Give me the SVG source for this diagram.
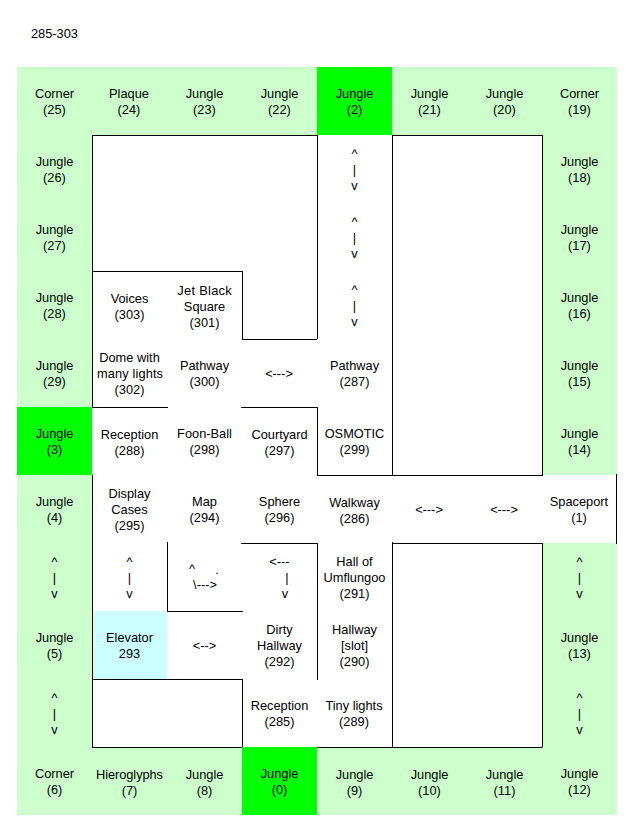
<svg xmlns="http://www.w3.org/2000/svg" width="626" height="830" viewBox="0 0 626 830">
<style>
text{font-family:"Liberation Sans",Arial,sans-serif;font-size:12.8px;fill:#000;text-anchor:middle}
.j{fill:#ccffcc}.g{fill:#00ff00}.e{fill:#ccffff}
.w{fill:none;stroke:#000;stroke-width:1}
</style>
<rect width="626" height="830" fill="#fff"/>
<text x="31" y="38" style="text-anchor:start">285-303</text>
<g id="n25"><rect class="j" x="17" y="67" width="75" height="68"/><text x="54.5" y="98">Corner</text><text x="54.5" y="114">(25)</text></g>
<g id="n24"><rect class="j" x="92" y="67" width="75" height="68"/><text x="129" y="98">Plaque</text><text x="129" y="114">(24)</text></g>
<g id="n23"><rect class="j" x="167" y="67" width="75" height="68"/><text x="204.5" y="98">Jungle</text><text x="204.5" y="114">(23)</text></g>
<g id="n22"><rect class="j" x="242" y="67" width="75" height="68"/><text x="279.5" y="98">Jungle</text><text x="279.5" y="114">(22)</text></g>
<g id="n2"><rect class="g" x="317" y="67" width="75" height="68"/><text x="354.5" y="98">Jungle</text><text x="354.5" y="114">(2)</text></g>
<g id="n21"><rect class="j" x="392" y="67" width="75" height="68"/><text x="429.5" y="98">Jungle</text><text x="429.5" y="114">(21)</text></g>
<g id="n20"><rect class="j" x="467" y="67" width="75" height="68"/><text x="504.5" y="98">Jungle</text><text x="504.5" y="114">(20)</text></g>
<g id="n19"><rect class="j" x="542" y="67" width="75" height="68"/><text x="579.5" y="98">Corner</text><text x="579.5" y="114">(19)</text></g>
<g id="n26"><rect class="j" x="17" y="135" width="75" height="68"/><text x="54.5" y="166">Jungle</text><text x="54.5" y="182">(26)</text></g>
<g id="n18"><rect class="j" x="542" y="135" width="75" height="68"/><text x="579.5" y="166">Jungle</text><text x="579.5" y="182">(18)</text></g>
<g id="n27"><rect class="j" x="17" y="203" width="75" height="68"/><text x="54.5" y="234">Jungle</text><text x="54.5" y="250">(27)</text></g>
<g id="n17"><rect class="j" x="542" y="203" width="75" height="68"/><text x="579.5" y="234">Jungle</text><text x="579.5" y="250">(17)</text></g>
<g id="n28"><rect class="j" x="17" y="271" width="75" height="68"/><text x="54.5" y="302">Jungle</text><text x="54.5" y="318">(28)</text></g>
<g id="n303"><text x="129.5" y="303">Voices</text><text x="129.5" y="319">(303)</text></g>
<g id="n301"><text x="204.5" y="295" textLength="54.5">Jet Black</text><text x="204.5" y="311">Square</text><text x="204.5" y="327">(301)</text></g>
<g id="n16"><rect class="j" x="542" y="271" width="75" height="68"/><text x="579.5" y="302">Jungle</text><text x="579.5" y="318">(16)</text></g>
<g id="n29"><rect class="j" x="17" y="339" width="75" height="68"/><text x="54.5" y="370">Jungle</text><text x="54.5" y="386">(29)</text></g>
<g id="n302"><text x="129.5" y="362" textLength="60.5">Dome with</text><text x="130" y="378" textLength="66">many lights</text><text x="129.5" y="394">(302)</text></g>
<g id="n300"><text x="204.5" y="370">Pathway</text><text x="204.5" y="386">(300)</text></g>
<g id="n287"><text x="354.5" y="370">Pathway</text><text x="354.5" y="386">(287)</text></g>
<g id="n15"><rect class="j" x="542" y="339" width="75" height="68"/><text x="579.5" y="370">Jungle</text><text x="579.5" y="386">(15)</text></g>
<g id="n3"><rect class="g" x="17" y="407" width="75" height="68"/><text x="54.5" y="438">Jungle</text><text x="54.5" y="454">(3)</text></g>
<g id="n288"><text x="129.5" y="439">Reception</text><text x="129.5" y="455">(288)</text></g>
<g id="n298"><text x="204.5" y="438">Foon-Ball</text><text x="204.5" y="454">(298)</text></g>
<g id="n297"><text x="279.5" y="439">Courtyard</text><text x="279.5" y="455">(297)</text></g>
<g id="n299"><text x="354.5" y="438">OSMOTIC</text><text x="354.5" y="454">(299)</text></g>
<g id="n14"><rect class="j" x="542" y="407" width="75" height="68"/><text x="579.5" y="438">Jungle</text><text x="579.5" y="454">(14)</text></g>
<g id="n4"><rect class="j" x="17" y="475" width="75" height="68"/><text x="54.5" y="506">Jungle</text><text x="54.5" y="522">(4)</text></g>
<g id="n295"><text x="129.5" y="498">Display</text><text x="129.5" y="514">Cases</text><text x="129.5" y="530">(295)</text></g>
<g id="n294"><text x="204.5" y="506">Map</text><text x="204.5" y="522">(294)</text></g>
<g id="n296"><text x="279.5" y="506">Sphere</text><text x="279.5" y="522">(296)</text></g>
<g id="n286"><text x="354.5" y="507">Walkway</text><text x="354.5" y="523">(286)</text></g>
<g id="n1"><text x="579" y="506">Spaceport</text><text x="579" y="522">(1)</text></g>
<g id="n291"><text x="354.5" y="566">Hall of</text><text x="354.5" y="582">Umflungoo</text><text x="354.5" y="598">(291)</text></g>
<g id="n5"><rect class="j" x="17" y="611" width="75" height="68"/><text x="54.5" y="642">Jungle</text><text x="54.5" y="658">(5)</text></g>
<g id="n293"><rect class="e" x="92" y="611" width="75" height="68"/><text x="129.5" y="642">Elevator</text><text x="129.5" y="658">293</text></g>
<g id="n292"><text x="279.5" y="634">Dirty</text><text x="279.5" y="650">Hallway</text><text x="279.5" y="666">(292)</text></g>
<g id="n290"><text x="354.5" y="634">Hallway</text><text x="354.5" y="650">[slot]</text><text x="354.5" y="666">(290)</text></g>
<g id="n13"><rect class="j" x="542" y="611" width="75" height="68"/><text x="579.5" y="642">Jungle</text><text x="579.5" y="658">(13)</text></g>
<g id="n285"><text x="279.5" y="710">Reception</text><text x="279.5" y="726">(285)</text></g>
<g id="n289"><text x="354" y="710">Tiny lights</text><text x="354" y="726">(289)</text></g>
<g id="n6"><rect class="j" x="17" y="747" width="75" height="68"/><text x="54.5" y="778">Corner</text><text x="54.5" y="794">(6)</text></g>
<g id="n7"><rect class="j" x="92" y="747" width="75" height="68"/><text x="129.5" y="779" textLength="67">Hieroglyphs</text><text x="129.5" y="795">(7)</text></g>
<g id="n8"><rect class="j" x="167" y="747" width="75" height="68"/><text x="204.5" y="779">Jungle</text><text x="204.5" y="795">(8)</text></g>
<g id="n0"><rect class="g" x="242" y="747" width="75" height="68"/><text x="279.5" y="778">Jungle</text><text x="279.5" y="794">(0)</text></g>
<g id="n9"><rect class="j" x="317" y="747" width="75" height="68"/><text x="354.5" y="779">Jungle</text><text x="354.5" y="795">(9)</text></g>
<g id="n10"><rect class="j" x="392" y="747" width="75" height="68"/><text x="429.5" y="779">Jungle</text><text x="429.5" y="795">(10)</text></g>
<g id="n11"><rect class="j" x="467" y="747" width="75" height="68"/><text x="504.5" y="779">Jungle</text><text x="504.5" y="795">(11)</text></g>
<g id="n12"><rect class="j" x="542" y="747" width="75" height="68"/><text x="579.5" y="778">Jungle</text><text x="579.5" y="794">(12)</text></g>
<g id="connectors">
<rect class="j" x="17" y="543" width="75" height="68"/>
<rect class="j" x="17" y="679" width="75" height="68"/>
<rect class="j" x="542" y="543" width="75" height="68"/>
<rect class="j" x="542" y="679" width="75" height="68"/>
<path class="w" d="M92.5 135.5H317.5M392.5 135.5H542.5M92.5 135V407M92.5 475V747M317.5 135V339M392.5 135V475M392.5 542V747M542.5 135V475M542.5 543V747M92 271.5H242.5M242.5 271V339M242 339.5H317M92 407.5H168M241 407.5H317.5M317.5 407V475M317 475.5H543M616.5 474V544M392 543.5H542.5M241 543.5H317.5M167.5 542V611M167 611.5H243M317.5 543V680M92 679.5H242.5M242.5 679V747M92 747.5H242M317 747.5H542.5"/>
<text x="354.5" y="158">^</text><text x="354.5" y="174">|</text><text x="354.5" y="190">v</text>
<text x="354.5" y="226">^</text><text x="354.5" y="242">|</text><text x="354.5" y="258">v</text>
<text x="354.5" y="294">^</text><text x="354.5" y="310">|</text><text x="354.5" y="326">v</text>
<text x="279" y="378">&lt;---&gt;</text>
<text x="429" y="514">&lt;---&gt;</text>
<text x="504" y="514">&lt;---&gt;</text>
<text x="54.5" y="566">^</text><text x="54.5" y="582">|</text><text x="54.5" y="598">v</text>
<text x="129.5" y="566">^</text><text x="129.5" y="582">|</text><text x="129.5" y="598">v</text>
<text x="192" y="573">^</text><text x="217" y="574">.</text><text x="205" y="589">\---&gt;</text>
<text x="279.5" y="566">&lt;---</text><text x="287" y="582">|</text><text x="285" y="598">v</text>
<text x="579.5" y="566">^</text><text x="579.5" y="582">|</text><text x="579.5" y="598">v</text>
<text x="204.5" y="650">&lt;--&gt;</text>
<text x="54.5" y="702">^</text><text x="54.5" y="718">|</text><text x="54.5" y="734">v</text>
<text x="579.5" y="702">^</text><text x="579.5" y="718">|</text><text x="579.5" y="734">v</text>
</g>
</svg>
